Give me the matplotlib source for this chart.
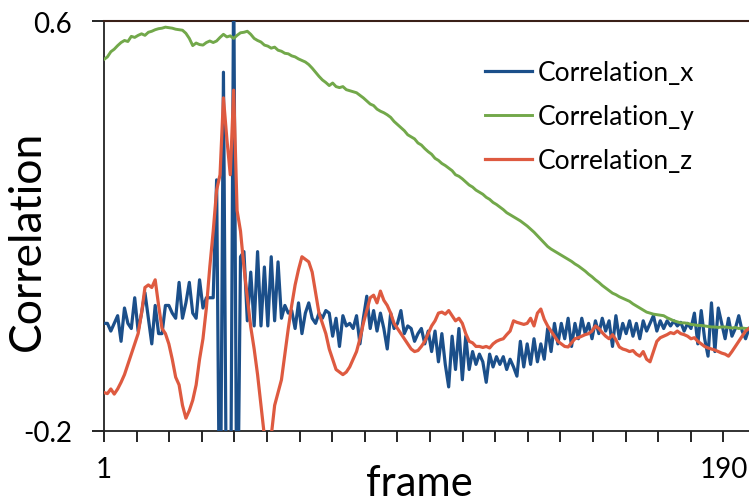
import numpy as np
import matplotlib.pyplot as plt

plt.rcParams['font.family'] = ['Lato', 'DejaVu Sans']

# frames
frame = np.arange(1, 191)

# Correlation_x (blue)
corr_x = [
    0.01, 0.01, -0.005, 0.01, 0.025, -0.025, 0.04, 0.01, 0.0, 0.06,
    -0.005, 0.03, 0.07, 0.02, -0.03, 0.045, -0.01, -0.01, 0.045, 0.045,
    0.03, 0.02, 0.09, 0.02, 0.05, 0.09, 0.03, 0.02, 0.095, 0.04,
    0.06, 0.06, 0.06, 0.29, -0.5, 0.5, -0.5, -0.5, 0.7, -0.5,
    0.14, 0.15, 0.015, 0.11, 0.005, 0.15, 0.005, 0.12, 0.005, 0.14,
    0.015, 0.13, 0.02, 0.045, 0.03, 0.035, 0.0, 0.05, -0.01, 0.03,
    0.05, 0.02, 0.01, 0.03, 0.02, 0.035, 0.03, -0.015, 0.02, -0.035,
    0.025, 0.005, 0.01, 0.0, 0.025, -0.03, 0.02, 0.063, 0.0, 0.035,
    -0.005, 0.03, 0.0, -0.04, 0.03, 0.0, 0.01, 0.035, -0.01, 0.005,
    0.0, -0.025, -0.01, 0.0, -0.03, -0.005, -0.045, -0.005, -0.065, -0.01,
    -0.07, -0.114, -0.015, -0.08, 0.0, -0.10, -0.015, -0.08, -0.045, -0.07,
    -0.05, -0.065, -0.105, -0.05, -0.075, -0.055, -0.07, -0.055, -0.08, -0.06,
    -0.075, -0.093, -0.025, -0.075, -0.03, -0.07, -0.02, -0.065, -0.03, -0.06,
    0.0, -0.045, 0.01, -0.03, 0.01, -0.02, 0.02, -0.035, 0.01, -0.02,
    0.02, -0.01, 0.01, -0.02, 0.015, -0.01, 0.02, -0.005, 0.015, -0.035,
    0.025, -0.02, 0.01, -0.01, 0.015, -0.015, 0.01, -0.02, 0.015, -0.005,
    0.01, 0.025, -0.005, 0.015, 0.0, 0.015, 0.005, 0.015, 0.005, 0.012,
    -0.005, 0.01, 0.0, 0.03, -0.03, 0.035, -0.02, -0.054, 0.05, -0.045,
    0.04, 0.01, -0.02, 0.02, -0.015, 0.0, 0.025, -0.005, -0.02, 0.0,
]

# Correlation_y (green)
corr_y = [
    0.525, 0.530, 0.540, 0.545, 0.552, 0.558, 0.562, 0.560, 0.570, 0.568,
    0.572, 0.575, 0.572, 0.578, 0.580, 0.583, 0.585, 0.586, 0.588, 0.587,
    0.586, 0.584, 0.583, 0.582, 0.576, 0.566, 0.552, 0.557, 0.554, 0.553,
    0.558, 0.561, 0.558, 0.561, 0.568, 0.574, 0.569, 0.571, 0.566, 0.572,
    0.577, 0.578, 0.580, 0.574, 0.566, 0.562, 0.559, 0.553, 0.551, 0.547,
    0.549, 0.543, 0.541, 0.537, 0.536, 0.532, 0.530, 0.526, 0.523, 0.520,
    0.515, 0.508, 0.500, 0.492, 0.485, 0.480, 0.474, 0.479, 0.472, 0.470,
    0.472, 0.466, 0.464, 0.462, 0.460, 0.455, 0.450, 0.444, 0.438, 0.435,
    0.428, 0.424, 0.421, 0.417, 0.412, 0.404, 0.398, 0.392, 0.386, 0.378,
    0.374, 0.370, 0.362, 0.358, 0.351, 0.345, 0.340, 0.332, 0.328, 0.322,
    0.318, 0.313, 0.308, 0.300, 0.297, 0.292, 0.286, 0.280, 0.276, 0.270,
    0.266, 0.262, 0.256, 0.252, 0.246, 0.242, 0.237, 0.232, 0.226, 0.222,
    0.218, 0.214, 0.210, 0.205, 0.200, 0.194, 0.188, 0.181, 0.174, 0.167,
    0.160, 0.155, 0.151, 0.147, 0.143, 0.139, 0.135, 0.131, 0.126, 0.122,
    0.117, 0.112, 0.106, 0.101, 0.095, 0.090, 0.084, 0.079, 0.074, 0.069,
    0.066, 0.062, 0.059, 0.056, 0.053, 0.048, 0.044, 0.040, 0.036, 0.032,
    0.030, 0.028, 0.027, 0.026, 0.025, 0.021, 0.018, 0.015, 0.013, 0.011,
    0.011, 0.010, 0.008, 0.007, 0.006, 0.006, 0.005, 0.004, 0.003, 0.003,
    0.002, 0.003, 0.003, 0.002, 0.001, 0.002, 0.000, 0.001, 0.000, 0.000,
]

# Correlation_z (red)
corr_z = [
    -0.125, -0.127, -0.118, -0.128, -0.118, -0.105, -0.09, -0.07, -0.05, -0.03,
    -0.01, 0.03, 0.08, 0.085, 0.08, 0.095, 0.045, 0.0, -0.01, -0.03,
    -0.06, -0.095, -0.11, -0.15, -0.175, -0.16, -0.14, -0.11, -0.06, -0.02,
    0.04, 0.12, 0.19, 0.27, 0.30, 0.45, 0.37, 0.30, 0.465, 0.23,
    0.19, 0.12, 0.06, 0.003, -0.04, -0.09, -0.15, -0.21, -0.23, -0.21,
    -0.15, -0.125, -0.10, -0.05, 0.0, 0.045, 0.085, 0.115, 0.14, 0.135,
    0.13, 0.11, 0.07, 0.03, 0.01, -0.01, -0.04, -0.06, -0.08, -0.085,
    -0.09, -0.085, -0.075, -0.06, -0.045, -0.02, 0.01, 0.035, 0.06, 0.065,
    0.05, 0.073, 0.055, 0.045, 0.03, 0.01, 0.0, -0.01, -0.02, -0.03,
    -0.04, -0.045, -0.043, -0.035, -0.025, -0.01, 0.005, 0.015, 0.03, 0.032,
    0.028, 0.035, 0.025, 0.015, 0.02, 0.01, -0.01, -0.025, -0.028, -0.035,
    -0.035, -0.037, -0.035, -0.038, -0.03, -0.025, -0.022, -0.02, -0.012, -0.005,
    0.015, 0.012, 0.01, 0.008, 0.01, 0.02, 0.005, 0.03, 0.038, 0.018,
    0.005, -0.005, -0.015, -0.025, -0.03, -0.035, -0.036, -0.028, -0.02, -0.018,
    -0.015, -0.012, -0.01, -0.005, 0.005, 0.0, -0.008, -0.015, -0.02, -0.012,
    -0.022, -0.036, -0.04, -0.042, -0.045, -0.043, -0.05, -0.054, -0.045, -0.06,
    -0.065, -0.045, -0.025, -0.018, -0.015, -0.012, -0.008, -0.01, -0.005, -0.01,
    -0.012, -0.015, -0.02, -0.018, -0.025, -0.03, -0.035, -0.038, -0.04, -0.042,
    -0.045, -0.048, -0.05, -0.054, -0.045, -0.035, -0.025, -0.015, -0.005, 0.0,
]

fig = plt.figure(figsize=(7.49, 5.02), dpi=100)
ax = fig.add_axes([104 / 749, 1 - 432 / 502, 1 - 104 / 749, 410 / 502])

ax.plot(frame, corr_x, color='#1b4f8a', lw=2.3, label='Correlation_x', zorder=3)
ax.plot(frame, corr_y, color='#72a84a', lw=2.1, label='Correlation_y', zorder=4)
ax.plot(frame, corr_z, color='#de5a40', lw=2.3, label='Correlation_z', zorder=5)

ax.set_xlim(1, 190)
ax.set_ylim(-0.2, 0.6)

# tick marks every ~9.55 frames (as in the source image)
step = 9.553
ticks = [1 + k * step for k in range(20)]
ax.set_xticks(ticks)
ax.set_xticklabels(['1'] + [''] * 18 + ['190'])
ax.set_yticks([-0.2, 0.6])
ax.set_yticklabels(['-0.2', '0.6'])
ax.tick_params(axis='x', direction='out', length=8, width=1.2, labelsize=20, pad=10)
ax.tick_params(axis='y', direction='out', length=9, width=1.2, labelsize=20, pad=14)

for s in ['left', 'bottom']:
    ax.spines[s].set_color('#222222')
    ax.spines[s].set_linewidth(1.3)
ax.spines['top'].set_color('#3a2018')
ax.spines['top'].set_linewidth(1.5)
ax.spines['right'].set_visible(False)

fig.text(419 / 749, 1 - 484 / 502, 'frame', fontsize=30, ha='center', va='center')
fig.text(27 / 749, 1 - 241 / 502, 'Correlation', fontsize=32, rotation=90,
         ha='center', va='center')

ax.legend(loc='upper left', bbox_to_anchor=(0.574, 0.93), frameon=False,
          fontsize=19, handlelength=1.8, handletextpad=0.2, labelspacing=0.72,
          borderaxespad=0)

fig.savefig('out.png', dpi=100)
